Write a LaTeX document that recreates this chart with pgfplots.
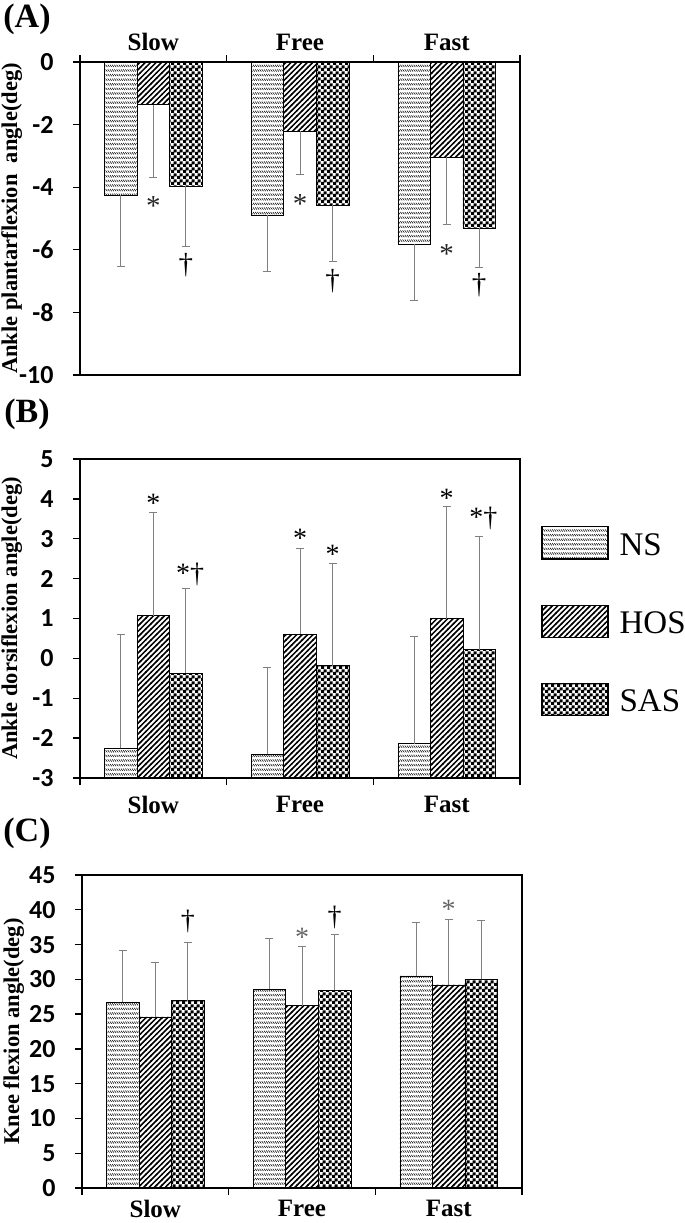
\documentclass[border=0pt]{standalone}
\usepackage{pgfplots}
\usepackage{pgfplotstable}
\pgfplotsset{compat=1.18}
\usepackage{fontspec}
\setmainfont{Liberation Serif}
\newfontfamily\carlito{Carlito}
\usetikzlibrary{patterns}

\pgfdeclarepatternformonly{nspat}{\pgfqpoint{-0.5pt}{-0.5pt}}{\pgfqpoint{2.7pt}{5pt}}{\pgfqpoint{2.2pt}{4.6pt}}{%
  \pgfsetlinewidth{0.55pt}%
  \pgfpathmoveto{\pgfqpoint{0pt}{3.6pt}}%
  \pgfpathlineto{\pgfqpoint{1.7pt}{1.4pt}}%
  \pgfusepath{stroke}}
\pgfdeclarepatternformonly{hospat}{\pgfqpoint{-1pt}{-1pt}}{\pgfqpoint{6.5pt}{6.5pt}}{\pgfqpoint{5.4pt}{5.4pt}}{%
  \pgfsetlinewidth{1.5pt}%
  \pgfpathmoveto{\pgfqpoint{-0.5pt}{-0.5pt}}%
  \pgfpathlineto{\pgfqpoint{5.9pt}{5.9pt}}%
  \pgfusepath{stroke}}
\pgfdeclarepatternformonly{saspat}{\pgfpointorigin}{\pgfqpoint{5.5pt}{5.5pt}}{\pgfqpoint{5.5pt}{5.5pt}}{%
  \pgfpathrectangle{\pgfpointorigin}{\pgfqpoint{3.35pt}{3.35pt}}%
  \pgfpathrectangle{\pgfqpoint{2.75pt}{2.75pt}}{\pgfqpoint{3.35pt}{3.35pt}}%
  \pgfusepath{fill}}

% x: 0=Slow 1=Free 2=Fast ; value and error length
\pgfplotstableread{
x   ns     nse   hos    hose  sas    sase
0  -4.26   2.28  -1.36  2.33  -3.96  1.94
1  -4.89   1.81  -2.21  1.38  -4.57  1.81
2  -5.82   1.81  -3.05  2.14  -5.30  1.26
}\dataA
\pgfplotstableread{
x   ns     nse   hos    hose  sas    sase
0  -2.25   2.86   1.07  2.60  -0.37  2.12
1  -2.40   2.18   0.61  2.15  -0.18  2.56
2  -2.14   2.69   1.00  2.81   0.22  2.84
}\dataB
\pgfplotstableread{
x   ns     nse   hos    hose  sas    sase
0   26.7   7.5   24.6   7.9   26.95  8.35
1   28.6   7.3   26.2   8.6   28.4   8.0
2   30.5   7.7   29.2   9.4   30.0   8.4
}\dataC

\pgfplotsset{
  panel/.style={
    scale only axis, width=440pt,
    xmin=-0.5, xmax=2.5,
    ybar, bar width=0.222,
    axis line style={line width=1.6pt},
    tick style={line width=1.3pt, black},
    major tick length=7pt,
    tick align=outside,
    ytick pos=left,
    xtick={-0.5,0.5,1.5,2.5}, xticklabels={},
    extra x ticks={0,1,2},
    extra x tick labels={Slow,Free,Fast},
    extra x tick style={major tick length=0pt},
    x tick label style={font=\fontsize{25}{25}\selectfont\bfseries},
    y tick label style={font=\carlito\bfseries\fontsize{26}{26}\selectfont, xshift=-16pt},
    /pgf/number format/assume math mode=true,
    ylabel style={font=\bfseries\fontsize{22.5}{22.5}\selectfont, at={(axis description cs:-0.155,0.5)}, anchor=center},
    clip=false,
  },
  errsty/.style={error bars/.cd, y dir=#1, y explicit,
    error bar style={line width=0.9pt, black!50},
    error mark options={line width=0.9pt, black!50, mark size=4pt, rotate=90}},
  legimg/.style={legend image code/.code={\draw[##1, line width=1.3pt] (0pt,-14pt) rectangle (66pt,18pt);}},
  ns/.style={draw=black, line width=0.6pt, pattern=nspat, bar shift=-0.222, legimg},
  hos/.style={draw=black, line width=0.6pt, pattern=hospat, bar shift=0, legimg},
  sas/.style={draw=black, line width=0.6pt, pattern=saspat, bar shift=0.222, legimg},
}

\begin{document}
\begin{tikzpicture}
\useasboundingbox (0,0) rectangle (685pt,-1223pt);

\node[font=\bfseries\fontsize{34}{34}\selectfont, inner sep=0pt] at (27pt,-19pt) {(A)};
\node[font=\bfseries\fontsize{34}{34}\selectfont, inner sep=0pt] at (27pt,-414pt) {(B)};
\node[font=\bfseries\fontsize{34}{34}\selectfont, inner sep=0pt] at (27pt,-833pt) {(C)};

% ---------- (A)
\begin{axis}[panel, at={(80pt,-62pt)}, anchor=north west, height=313pt,
  ymin=-10, ymax=0, ytick={-10,-8,...,0},
  xtick pos=upper, xticklabel pos=upper,
  x tick label style={yshift=8pt},
  ylabel={Ankle plantarflexion~ angle(deg)}]
\addplot[ns, errsty=minus] table[x=x, y=ns, y error minus=nse] {\dataA};
\addplot[hos, errsty=minus] table[x=x, y=hos, y error minus=hose] {\dataA};
\addplot[sas, errsty=minus] table[x=x, y=sas, y error minus=sase] {\dataA};
\begin{scope}[every node/.style={font=\fontsize{29}{29}\selectfont}]
\node[text=black!85] at (axis cs:0,-4.6) {*};
\node[text=black!85] at (axis cs:1,-4.55) {*};
\node[text=black!85] at (axis cs:2,-6.15) {*};
\node at (axis cs:0.222,-6.49) {†};
\node at (axis cs:1.222,-7.0) {†};
\node at (axis cs:2.222,-7.13) {†};
\end{scope}
\end{axis}

% ---------- (B)
\begin{axis}[panel, at={(80pt,-459pt)}, anchor=north west, height=319pt,
  y coord trafo/.code={\pgfmathparse{#1+3}},
  y coord inv trafo/.code={\pgfmathparse{#1-3}},
  ymin=-3, ymax=5, ytick={-3,-2,...,5},
  xtick pos=lower, xticklabel pos=lower,
  x tick label style={yshift=-15pt},
  ylabel={Ankle dorsiflexion angle(deg)},
  legend style={draw=none, fill=none, at={(1.048,0.79)}, anchor=north west,
    inner sep=0pt, row sep=45pt, font=\fontsize{33}{33}\selectfont,
    /tikz/every odd column/.append style={column sep=9pt}},
  legend cell align=left]
\addplot[ns, errsty=plus] table[x=x, y=ns, y error plus=nse] {\dataB};
\addplot[hos, errsty=plus] table[x=x, y=hos, y error plus=hose] {\dataB};
\addplot[sas, errsty=plus] table[x=x, y=sas, y error plus=sase] {\dataB};
\legend{NS,HOS,SAS}
\begin{scope}[every node/.style={font=\fontsize{28}{28}\selectfont}]
\node at (axis cs:0,3.9) {*};
\node at (axis cs:0.25,2.1) {*†};
\node at (axis cs:1,3.0) {*};
\node at (axis cs:1.222,2.6) {*};
\node at (axis cs:2,4.02) {*};
\node at (axis cs:2.25,3.52) {*†};
\end{scope}
\end{axis}

% ---------- (C)
\begin{axis}[panel, at={(82pt,-875pt)}, anchor=north west, height=313pt,
  ymin=0, ymax=45, ytick={0,5,...,45},
  xtick pos=lower, xticklabel pos=lower,
  x tick label style={yshift=-9pt},
  ylabel={Knee flexion angle(deg)}]
\addplot[ns, errsty=plus] table[x=x, y=ns, y error plus=nse] {\dataC};
\addplot[hos, errsty=plus] table[x=x, y=hos, y error plus=hose] {\dataC};
\addplot[sas, errsty=plus] table[x=x, y=sas, y error plus=sase] {\dataC};
\begin{scope}[every node/.style={font=\fontsize{28}{28}\selectfont}]
\node at (axis cs:0.222,38.3) {†};
\node[text=black!60] at (axis cs:1,36.0) {*};
\node at (axis cs:1.222,38.9) {†};
\node[text=black!60] at (axis cs:2,40.0) {*};
\end{scope}
\end{axis}
\end{tikzpicture}
\end{document}
